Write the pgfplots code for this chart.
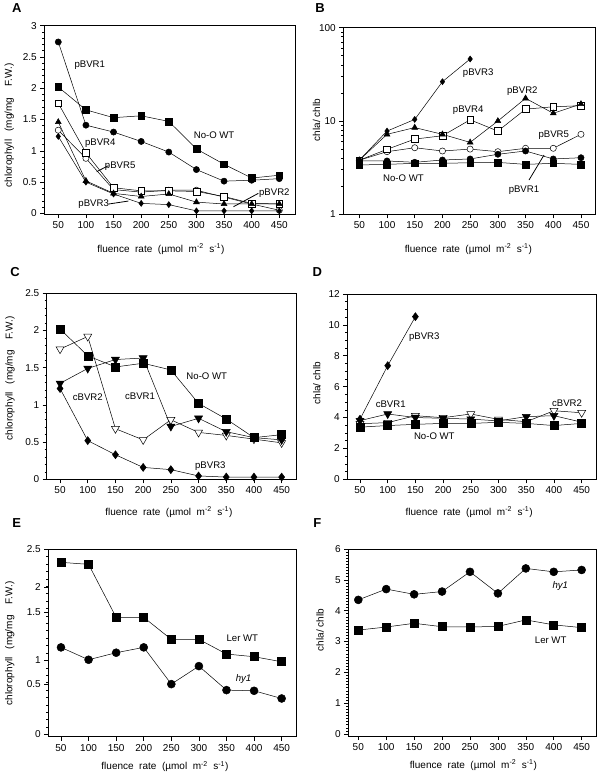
\documentclass[border=0pt]{standalone}
\usepackage{fontspec}
\setmainfont{Liberation Sans}
\usepackage{pgfplots}
\pgfplotsset{compat=1.18}
\pgfplotsset{
  panel/.style={
    scale only axis, anchor=north west,
    axis line style={line width=0.9pt},
    tick align=outside,
    xtick pos=bottom, ytick pos=left,
    major tick length=4pt, minor tick length=2pt,
    every tick/.style={black, line width=0.6pt},
    xtick={50,100,...,450},
    /pgf/number format/assume math mode=true,
    ticklabel style={font=\fontsize{10}{11}\selectfont},
    label style={font=\fontsize{10}{11}\selectfont},
    every axis plot/.append style={black, line width=0.5pt},
    clip=false,
    xlabel={fluence\ \ rate\ \ (µmol\ \ m\textsuperscript{-2}\ \ s\textsuperscript{-1})},
  },
  fsq/.style={mark=square*, mark size=#1, mark options={solid, fill=black, draw=black}},
  osq/.style={mark=square*, mark size=#1, mark options={solid, fill=white, draw=black}},
  fci/.style={mark=*, mark size=#1, mark options={solid, fill=black, draw=black}},
  oci/.style={mark=*, mark size=#1, mark options={solid, fill=white, draw=black}},
  ftr/.style={mark=triangle*, mark size=#1, mark options={solid, fill=black, draw=black}},
  fdi/.style={mark=diamond*, mark size=#1, mark options={solid, fill=black, draw=black}},
  fdt/.style={mark=triangle*, mark size=#1, mark options={solid, rotate=180, fill=black, draw=black}},
  odt/.style={mark=triangle*, mark size=#1, mark options={solid, rotate=180, fill=white, draw=black}},
}
\newcommand{\lab}{\fontsize{9.6}{10}\selectfont}
\begin{document}
\begin{tikzpicture}
\useasboundingbox (0pt,0pt) rectangle (602pt,-774pt);
% panel letters
\node[font=\bfseries\fontsize{13}{14}\selectfont] at (16.7pt,-8.3pt) {A};
\node[font=\bfseries\fontsize{13}{14}\selectfont] at (320pt,-8.3pt) {B};
\node[font=\bfseries\fontsize{13}{14}\selectfont] at (15pt,-271.7pt) {C};
\node[font=\bfseries\fontsize{13}{14}\selectfont] at (317.3pt,-271.7pt) {D};
\node[font=\bfseries\fontsize{13}{14}\selectfont] at (16.7pt,-523.3pt) {E};
\node[font=\bfseries\fontsize{13}{14}\selectfont] at (317.3pt,-522.7pt) {F};

% ---------------- A ----------------
\begin{axis}[panel, at={(44.3pt,-25.7pt)}, width=250.7pt, height=188.3pt,
  xmin=24.7, xmax=478.4, ymin=-0.01, ymax=3,
  ytick={0,0.5,...,3}, minor y tick num=4,
  ylabel={chlorophyll\ \ \ (mg/mg\ \ \ \ F.W.)},
  xlabel style={at={(axis description cs:0.465,-0.186)}, anchor=center},
  ylabel style={at={(axis description cs:-0.14,0.47)}, anchor=center}]
\addplot[oci=3.1] coordinates {(50,1.33) (100,0.88) (150,0.38) (200,0.34) (250,0.37) (300,0.37) (350,0.26) (400,0.15) (450,0.05)};
\addplot[osq=3.4] coordinates {(50,1.76) (100,0.97) (150,0.41) (200,0.36) (250,0.36) (300,0.35) (350,0.27) (400,0.16) (450,0.15)};
\addplot[ftr=3.4] coordinates {(50,1.46) (100,0.52) (150,0.32) (200,0.27) (250,0.31) (300,0.18) (350,0.15) (400,0.15) (450,0.15)};
\addplot[fdi=3] coordinates {(50,1.23) (100,0.50) (150,0.31) (200,0.16) (250,0.14) (300,0.04) (350,0.04) (400,0.04) (450,0.04)};
\addplot[fci=3.1] coordinates {(50,2.74) (100,1.41) (150,1.30) (200,1.15) (250,0.98) (300,0.70) (350,0.515) (400,0.53) (450,0.555)};
\addplot[fsq=3.4] coordinates {(50,2.02) (100,1.655) (150,1.53) (200,1.56) (250,1.47) (300,1.03) (350,0.785) (400,0.565) (450,0.61)};
\node[font=\lab] at (axis cs:107,2.37) {pBVR1};
\node[font=\lab] at (axis cs:126,1.12) {pBVR4};
\node[font=\lab] at (axis cs:162,0.76) {pBVR5};
\node[font=\lab] at (axis cs:332,1.245) {No-O WT};
\node[font=\lab] at (axis cs:441,0.33) {pBVR2};
\node[font=\lab] at (axis cs:114,0.149) {pBVR3};
\draw[line width=0.8pt] (axis cs:119.6,0.667) -- (axis cs:140.6,0.763);
\draw[line width=0.8pt] (axis cs:367,0.106) -- (axis cs:412,0.32);
\draw[line width=0.8pt] (axis cs:140.6,0.149) -- (axis cs:176.8,0.197);
\end{axis}

% ---------------- B ----------------
\begin{axis}[panel, at={(343.3pt,-27.7pt)}, width=251.7pt, height=186.6pt,
  xmin=21.1, xmax=475.3, ymode=log, ymin=1, ymax=100,
  log ticks with fixed point,
  ylabel={chla/ chlb},
  xlabel style={at={(axis description cs:0.497,-0.186)}, anchor=center},
  ylabel style={at={(axis description cs:-0.106,0.505)}, anchor=center}]
\addplot[oci=3.1] coordinates {(50,3.8) (100,4.69) (150,5.17) (200,4.77) (250,5.0) (300,4.69) (350,5.1) (400,5.1) (450,7.2)};
\addplot[osq=3.4] coordinates {(50,3.8) (100,4.97) (150,6.4) (200,6.95) (250,10.3) (300,7.8) (350,13.4) (400,14.2) (450,14.6)};
\addplot[ftr=3.4] coordinates {(50,3.8) (100,7.2) (150,8.5) (200,7.2) (250,5.9) (300,10.0) (350,17.5) (400,12.1) (450,15.2)};
\addplot[fdi=3] coordinates {(50,3.8) (100,7.8) (150,10.4) (200,26.4) (250,46.2)};
\addplot[fci=3.1] coordinates {(50,3.73) (100,3.73) (150,3.61) (200,3.82) (250,3.92) (300,4.4) (350,4.77) (400,3.92) (450,4.04)};
\addplot[fsq=3.4] coordinates {(50,3.38) (100,3.43) (150,3.52) (200,3.52) (250,3.57) (300,3.6) (350,3.43) (400,3.52) (450,3.43)};
\node[font=\lab] at (axis cs:264.5,32.9) {pBVR3};
\node[font=\lab] at (axis cs:344.2,21.1) {pBVR2};
\node[font=\lab] at (axis cs:246.4,12.9) {pBVR4};
\node[font=\lab] at (axis cs:400.9,7.08) {pBVR5};
\node[font=\lab] at (axis cs:129.7,2.43) {No-O WT};
\node[font=\lab] at (axis cs:347.1,1.82) {pBVR1};
\draw[line width=0.8pt] (axis cs:356.2,2.33) -- (axis cs:383.3,4.32);
\end{axis}

% ---------------- C ----------------
\begin{axis}[panel, at={(46.7pt,-293.3pt)}, width=249.3pt, height=186pt,
  xmin=25.9, xmax=475.9, ymin=0, ymax=2.5,
  ytick={0,0.5,...,2.5}, minor y tick num=4,
  ylabel={chlorophyll\ \ \ (mg/mg\ \ \ \ F.W.)},
  xlabel style={at={(axis description cs:0.49,-0.177)}, anchor=center},
  ylabel style={at={(axis description cs:-0.147,0.543)}, anchor=center}]
\addplot[odt=4.6] coordinates {(50,1.75) (100,1.92) (150,0.68) (200,0.53) (250,0.80) (300,0.63) (350,0.59) (400,0.54) (450,0.49)};
\addplot[fdt=4.6] coordinates {(50,1.29) (100,1.49) (150,1.61) (200,1.63) (250,0.71) (300,0.82) (350,0.64) (400,0.56) (450,0.53)};
\addplot[fdi=4] coordinates {(50,1.22) (100,0.52) (150,0.33) (200,0.16) (250,0.13) (300,0.045) (350,0.03) (400,0.03) (450,0.03)};
\addplot[fsq=4] coordinates {(50,2.02) (100,1.66) (150,1.51) (200,1.56) (250,1.47) (300,1.02) (350,0.81) (400,0.56) (450,0.60)};
\node[font=\lab] at (axis cs:314.8,1.388) {No-O WT};
\node[font=\lab] at (axis cs:194.4,1.11) {cBVR1};
\node[font=\lab] at (axis cs:100,1.10) {cBVR2};
\node[font=\lab] at (axis cs:321.3,0.179) {pBVR3};
\end{axis}

% ---------------- D ----------------
\begin{axis}[panel, at={(347.3pt,-294pt)}, width=248.7pt, height=185.3pt,
  xmin=27.1, xmax=475.9, ymin=0, ymax=12,
  ytick={0,2,...,12}, minor y tick num=3,
  ylabel={chla/ chlb},
  xlabel style={at={(axis description cs:0.49,-0.177)}, anchor=center},
  ylabel style={at={(axis description cs:-0.123,0.518)}, anchor=center}]
\addplot[odt=4.6] coordinates {(50,3.6) (100,3.67) (150,4.12) (200,3.99) (250,4.23) (300,3.88) (350,3.73) (400,4.44) (450,4.31)};
\addplot[fdt=4.6] coordinates {(50,3.8) (100,4.23) (150,4.0) (200,3.95) (250,3.9) (300,3.78) (350,4.06) (400,4.12) (450,3.7)};
\addplot[fsq=4] coordinates {(50,3.38) (100,3.48) (150,3.56) (200,3.62) (250,3.62) (300,3.69) (350,3.62) (400,3.48) (450,3.62)};
\addplot[fdi=4] coordinates {(50,3.89) (100,7.36) (150,10.53)};
\node[font=\lab] at (axis cs:166,9.2) {pBVR3};
\node[font=\lab] at (axis cs:105.4,4.88) {cBVR1};
\node[font=\lab] at (axis cs:423.6,4.96) {cBVR2};
\node[font=\lab] at (axis cs:184.1,2.82) {No-O WT};
\end{axis}

% ---------------- E ----------------
% the printed y axis of this panel is irregularly spaced; tick labels sit where the original shows them
\begin{axis}[panel, at={(48.3pt,-549.3pt)}, width=247.7pt, height=187.4pt,
  xmin=27, xmax=476, ymin=-0.03, ymax=2.5,
  ytick={0,0.675,1.0,1.65,1.99,2.5}, yticklabels={0,0.5,1,1.5,2,2.5},
  minor ytick={0.1,0.2,...,2.45},
  ylabel={chlorophyll\ \ \ (mg/mg\ \ \ \ F.W.)},
  xlabel style={at={(axis description cs:0.471,-0.16)}, anchor=center},
  ylabel style={at={(axis description cs:-0.155,0.498)}, anchor=center}]
\addplot[fci=4] coordinates {(50,1.176) (100,1.009) (150,1.104) (200,1.176) (250,0.680) (300,0.923) (350,0.599) (400,0.590) (450,0.486)};
\addplot[fsq=4] coordinates {(50,2.324) (100,2.297) (150,1.581) (200,1.581) (250,1.284) (300,1.284) (350,1.086) (400,1.050) (450,0.982)};
\node[font=\lab] at (axis cs:378.7,1.297) {Ler WT};
\node[font=\lab] at (axis cs:381,0.743) {\itshape hy1};
\end{axis}

% ---------------- F ----------------
\begin{axis}[panel, at={(348.3pt,-549pt)}, width=247.7pt, height=187pt,
  xmin=32.1, xmax=475.7, ymin=-0.065, ymax=6,
  ytick={0,1,...,6}, minor y tick num=9,
  ylabel={chla/ chlb},
  xlabel style={at={(axis description cs:0.505,-0.155)}, anchor=center},
  ylabel style={at={(axis description cs:-0.114,0.567)}, anchor=center}]
\addplot[fci=4] coordinates {(50,4.35) (100,4.70) (150,4.53) (200,4.62) (250,5.26) (300,4.56) (350,5.37) (400,5.26) (450,5.32)};
\addplot[fsq=4] coordinates {(50,3.37) (100,3.47) (150,3.59) (200,3.48) (250,3.47) (300,3.49) (350,3.70) (400,3.54) (450,3.45)};
\node[font=\lab] at (axis cs:411.8,4.8) {\itshape hy1};
\node[font=\lab] at (axis cs:394.5,3.05) {Ler WT};
\end{axis}
\end{tikzpicture}
\end{document}
